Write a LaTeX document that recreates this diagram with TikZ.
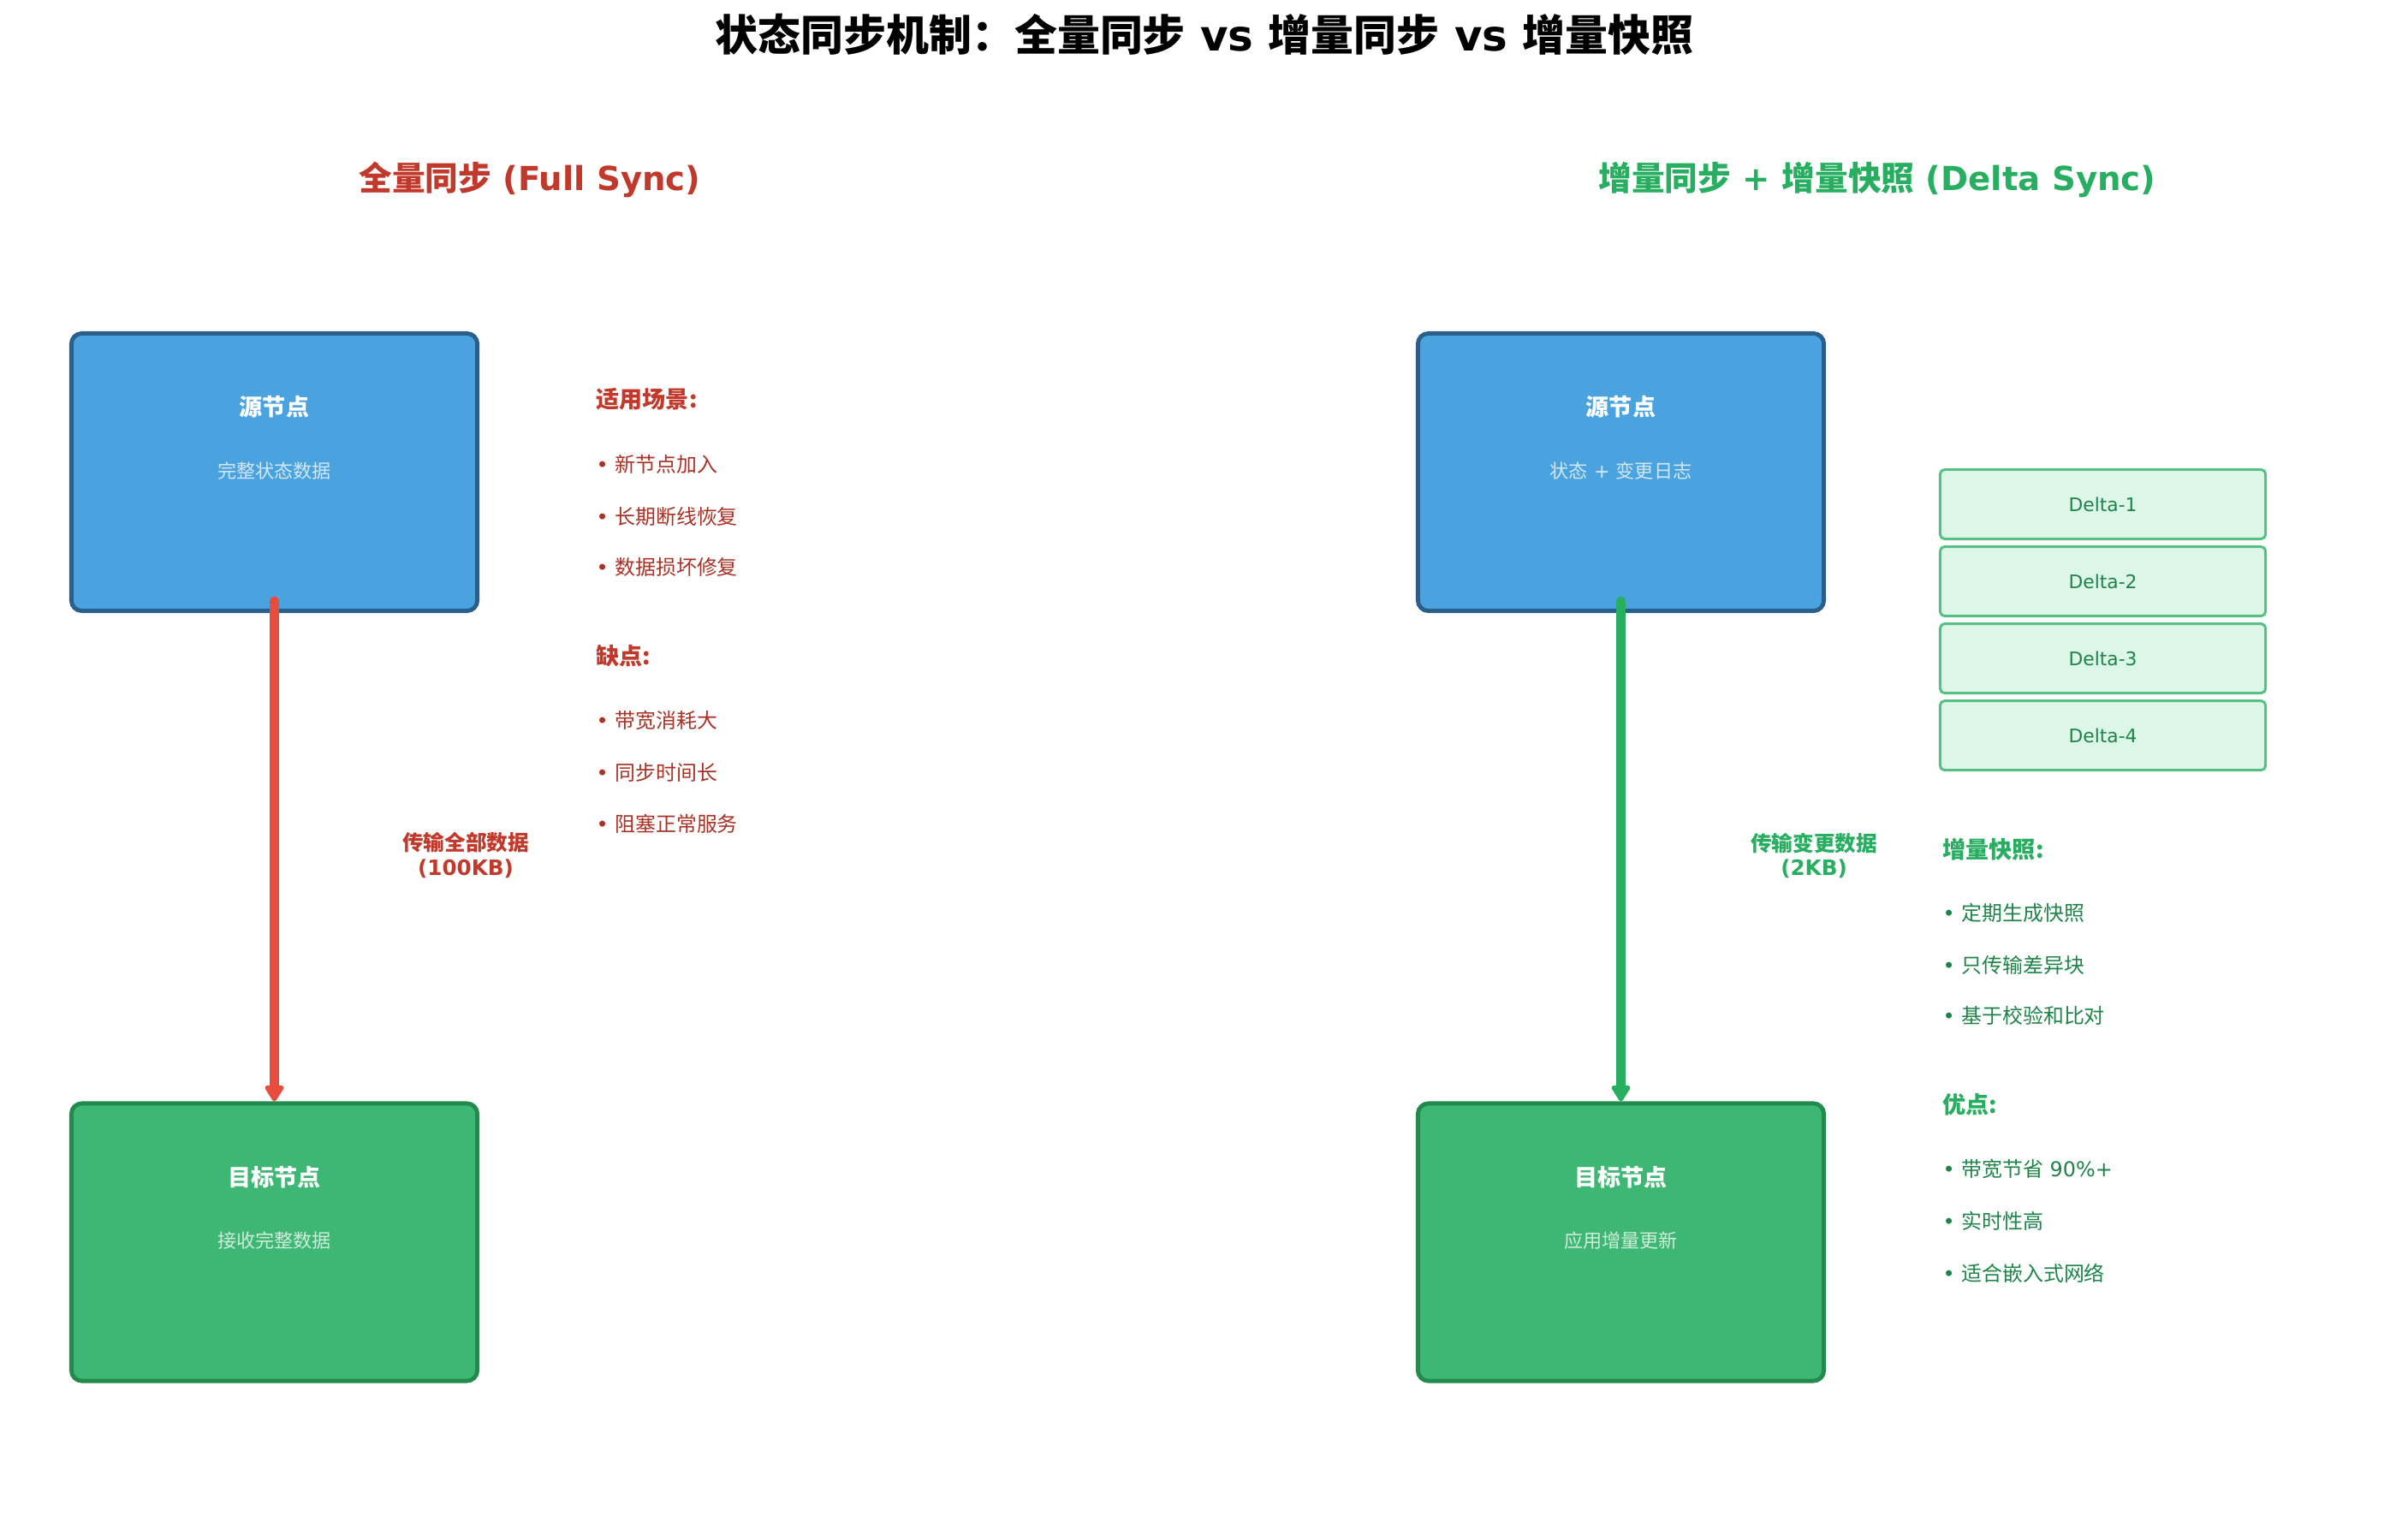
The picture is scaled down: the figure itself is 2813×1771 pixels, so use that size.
\documentclass[tikz,border=0pt]{standalone}
\usepackage{fontspec}
\setmainfont{DejaVu Sans}
\newfontfamily\cjk{Noto Sans CJK SC}
\usetikzlibrary{positioning, arrows.meta}

\definecolor{srcfill}{HTML}{4AA3DF}
\definecolor{srcedge}{HTML}{2A5F8C}
\definecolor{tgtfill}{HTML}{3DB773}
\definecolor{tgtedge}{HTML}{238A4E}
\definecolor{fullred}{HTML}{E74C3C}
\definecolor{fulltext}{HTML}{C0392B}
\definecolor{fullitem}{HTML}{A93226}
\definecolor{deltagreen}{HTML}{27AE60}
\definecolor{deltaitem}{HTML}{1E8449}
\definecolor{deltafill}{HTML}{DCF6E8}
\definecolor{deltaedge}{HTML}{58C085}

\newcommand{\bpoint}[1]{•\ {\cjk #1}}

\begin{document}
\begin{tikzpicture}[
    x=0.01cm, y=-0.01cm,
    srcnode/.style={rectangle, rounded corners=3.5pt, draw=srcedge, fill=srcfill, line width=1.4pt, minimum width=4.74cm, minimum height=3.24cm},
    tgtnode/.style={rectangle, rounded corners=3.5pt, draw=tgtedge, fill=tgtfill, line width=1.4pt, minimum width=4.74cm, minimum height=3.24cm},
    deltabox/.style={rectangle, rounded corners=1.5pt, draw=deltaedge, fill=deltafill, line width=0.85pt, minimum width=3.80cm, minimum height=0.81cm, text=deltaitem, font=\fontsize{6.2pt}{7pt}\selectfont},
    nodetitle/.style={inner sep=0pt, text=white, font=\cjk\bfseries\fontsize{7.7pt}{9pt}\selectfont},
    nodesub/.style={inner sep=0pt, font=\cjk\fontsize{6.3pt}{7.5pt}\selectfont},
    heading/.style={inner sep=0pt, anchor=west, font=\cjk\bfseries\fontsize{7.7pt}{9pt}\selectfont},
    item/.style={inner sep=0pt, anchor=west, font=\fontsize{6.8pt}{8pt}\selectfont},
    arrowlabel/.style={inner sep=0pt, align=center, font=\bfseries\fontsize{7pt}{8pt}\selectfont},
    fullarrow/.style={-{Triangle[length=6pt, width=7pt, round]}, line cap=round, line width=3.1pt, draw=fullred},
    deltaarrow/.style={-{Triangle[length=6pt, width=7pt, round]}, line cap=round, line width=3.1pt, draw=deltagreen}
]
    \useasboundingbox (0,0) rectangle (2813,1771);

    % Title
    \node[inner sep=0pt, font=\bfseries\fontsize{14.2pt}{17pt}\selectfont] (title) at (1407,40) {{\cjk 状态同步机制：全量同步} vs {\cjk 增量同步} vs {\cjk 增量快照}};

    % Column headings
    \node[inner sep=0pt, text=fulltext, font=\bfseries\fontsize{11pt}{13pt}\selectfont] (fullhead) at (619,210) {{\cjk 全量同步} (Full Sync)};
    \node[inner sep=0pt, text=deltagreen, font=\bfseries\fontsize{11pt}{13pt}\selectfont] (deltahead) at (2193,210) {{\cjk 增量同步} + {\cjk 增量快照} (Delta Sync)};

    % Full sync nodes
    \node[srcnode] (src1) at (320.5,551.5) {};
    \node[tgtnode, below=5.7cm of src1] (tgt1) {};
    \node[nodetitle] (src1t) at ([yshift=0.76cm]src1.center) {源节点};
    \node[nodesub, text=srcfill!25!white] (src1s) at ([yshift=0.02cm]src1.center) {完整状态数据};
    \node[nodetitle] (tgt1t) at ([yshift=0.76cm]tgt1.center) {目标节点};
    \node[nodesub, text=tgtfill!25!white] (tgt1s) at ([yshift=0.02cm]tgt1.center) {接收完整数据};

    % Delta sync nodes
    \node[srcnode] (src2) at (1893.5,551.5) {};
    \node[tgtnode, below=5.7cm of src2] (tgt2) {};
    \node[nodetitle] (src2t) at ([yshift=0.76cm]src2.center) {源节点};
    \node[nodesub, text=srcfill!25!white] (src2s) at ([yshift=0.02cm]src2.center) {状态{\rmfamily\ + }变更日志};
    \node[nodetitle] (tgt2t) at ([yshift=0.76cm]tgt2.center) {目标节点};
    \node[nodesub, text=tgtfill!25!white] (tgt2s) at ([yshift=0.02cm]tgt2.center) {应用增量更新};

    % Delta log
    \node[deltabox] (d1) at (2456.5,589) {Delta-1};
    \node[deltabox, below=0.06cm of d1] (d2) {Delta-2};
    \node[deltabox, below=0.06cm of d2] (d3) {Delta-3};
    \node[deltabox, below=0.06cm of d3] (d4) {Delta-4};

    % Arrows
    \draw[fullarrow] ([yshift=0.14cm]src1.south) -- (tgt1.north);
    \draw[deltaarrow] ([yshift=0.14cm]src2.south) -- (tgt2.north);
    \node[arrowlabel, text=fulltext] (lbl1) at (544,999) {{\cjk 传输全部数据}\\(100KB)};
    \node[arrowlabel, text=deltagreen] (lbl2) at (2119,999) {{\cjk 传输变更数据}\\(2KB)};

    % Full sync notes
    \node[heading, text=fulltext] (use) at (696,466) {适用场景:};
    \node[item, text=fullitem] (use1) at (696,542) {\bpoint{新节点加入}};
    \node[item, text=fullitem] (use2) at (696,603) {\bpoint{长期断线恢复}};
    \node[item, text=fullitem] (use3) at (696,662) {\bpoint{数据损坏修复}};
    \node[heading, text=fulltext] (cons) at (696,766) {缺点:};
    \node[item, text=fullitem] (cons1) at (696,841) {\bpoint{带宽消耗大}};
    \node[item, text=fullitem] (cons2) at (696,902) {\bpoint{同步时间长}};
    \node[item, text=fullitem] (cons3) at (696,962) {\bpoint{阻塞正常服务}};

    % Delta sync notes
    \node[heading, text=deltagreen] (snap) at (2269,992) {增量快照:};
    \node[item, text=deltaitem] (snap1) at (2269,1066) {\bpoint{定期生成快照}};
    \node[item, text=deltaitem] (snap2) at (2269,1127) {\bpoint{只传输差异块}};
    \node[item, text=deltaitem] (snap3) at (2269,1186) {\bpoint{基于校验和比对}};
    \node[heading, text=deltagreen] (pros) at (2269,1290) {优点:};
    \node[item, text=deltaitem] (pros1) at (2269,1365) {\bpoint{带宽节省} 90\%+};
    \node[item, text=deltaitem] (pros2) at (2269,1426) {\bpoint{实时性高}};
    \node[item, text=deltaitem] (pros3) at (2269,1487) {\bpoint{适合嵌入式网络}};
\end{tikzpicture}
\end{document}
